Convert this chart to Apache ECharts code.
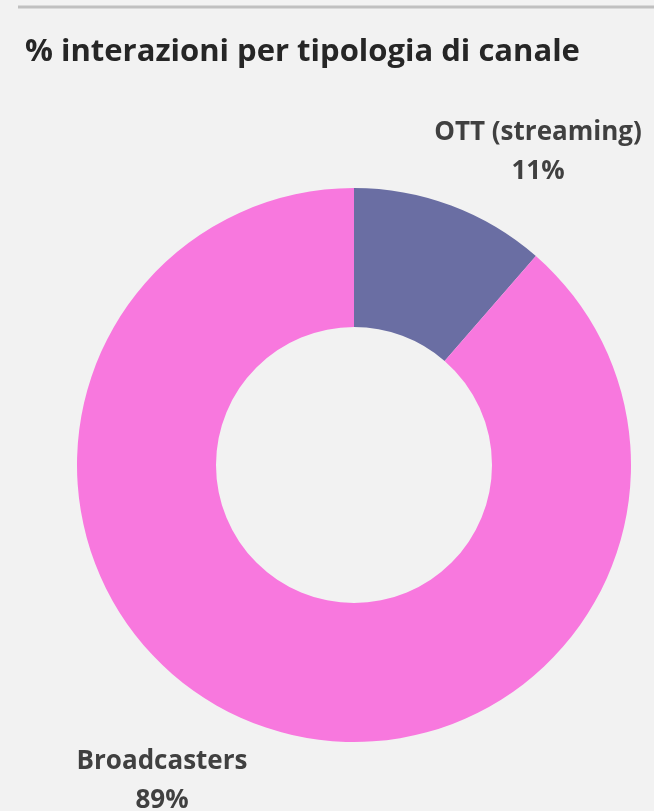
<!DOCTYPE html>
<html><head><meta charset="utf-8">
<script src="https://cdn.jsdelivr.net/npm/echarts@6/dist/echarts.min.js"></script>
<style>html,body{margin:0;padding:0;background:#f2f2f2;}#c{width:654px;height:811px;}</style>
</head><body><div id="c"></div>
<script>
const categories = ["OTT (streaming)", "Broadcasters"];
const values = [11.4, 88.6];
const colors = ["#6a6ea3", "#f878de"];
const titleText = "% interazioni per tipologia di canale";

const chart = echarts.init(document.getElementById('c'), null, {renderer: 'canvas'});
const labelPos = [{x: 538, y: 152}, {x: 162, y: 781}];
chart.setOption({
  backgroundColor: '#f2f2f2',
  animation: false,
  title: {
    text: titleText, left: 20, top: 32,
    textStyle: {fontFamily: 'Open Sans', fontWeight: 'bold', fontSize: 31, color: '#262626'}
  },
  graphic: [{type: 'line', shape: {x1: 18, y1: 7, x2: 654, y2: 7}, style: {stroke: '#c0c0c0', lineWidth: 3}}],
  series: [{
    type: 'pie',
    center: [354, 465],
    radius: [138, 277],
    startAngle: 90,
    clockwise: true,
    data: categories.map((c, i) => ({name: c, value: values[i], itemStyle: {color: colors[i]}})),
    label: {
      show: true, position: 'outside', overflow: 'none',
      formatter: p => p.name + '\n' + Math.round(p.value) + '%',
      fontFamily: 'Open Sans', fontWeight: 'bold', fontSize: 26, color: '#404040', lineHeight: 39, align: 'center'
    },
    labelLine: {show: false},
    labelLayout: function (params) {
      const p = labelPos[params.dataIndex];
      return {x: p.x, y: p.y, align: 'center', verticalAlign: 'middle'};
    }
  }]
});
</script></body></html>
